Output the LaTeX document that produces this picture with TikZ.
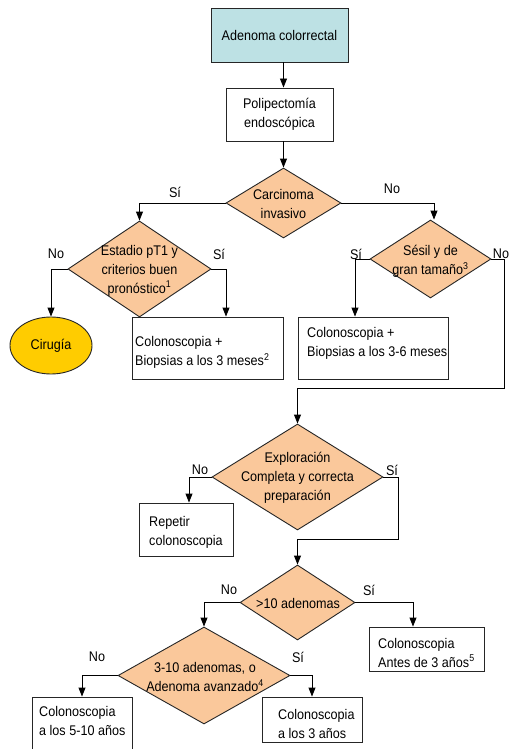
\documentclass[tikz,border=0pt]{standalone}
\usepackage{fontspec}
\setmainfont{Liberation Sans}[FakeStretch=0.9]
\usetikzlibrary{shapes.geometric,arrows.meta}
\definecolor{tealfill}{HTML}{BDE1E4}
\definecolor{orangefill}{HTML}{FAC89B}
\definecolor{yellowfill}{HTML}{FFCC00}
\definecolor{edgecol}{HTML}{262626}
\tikzset{
  basefont/.style={font=\fontsize{14}{19}\selectfont},
  boxnode/.style={basefont, draw=edgecol, line width=0.9pt, rectangle, inner sep=0pt, align=center},
  decision/.style={draw=edgecol, line width=0.9pt, diamond, fill=orangefill, inner sep=0pt},
  dtext/.style={basefont, align=center, inner sep=0pt},
  btext/.style={basefont, align=left, inner sep=0pt, anchor=west},
  lbl/.style={basefont, inner sep=0pt},
  arr/.style={draw=black, line width=0.9pt, -{Triangle[length=9pt,width=7pt]}},
  conn/.style={draw=black, line width=0.9pt}
}
\begin{document}
\begin{tikzpicture}[x=1pt,y=-1pt]
\clip (0,0) rectangle (510,749);
\fill[white] (0,0) rectangle (510,749);
% boxes
\node[boxnode, fill=tealfill, minimum width=137pt, minimum height=54pt] (b1) at (279.5,35) {Adenoma colorrectal};
\node[boxnode, fill=white, minimum width=107pt, minimum height=53pt] (b2) at (279.5,114.5) {Polipectomía\\endoscópica};
% decisions
\node[decision, minimum width=115pt, minimum height=70pt] (d1) at (283.5,203) {};
\node[dtext] (d1t) at (283.5,204) {Carcinoma\\invasivo};
\node[decision, minimum width=143pt, minimum height=96pt] (d2) at (139.5,269) {};
\node[dtext] (d2t) at (139.5,270.5) {Estadio pT1 y\\criterios buen\\pronóstico\textsuperscript{1}};
\node[decision, minimum width=121pt, minimum height=78pt] (d3) at (430.5,259) {};
\node[dtext] (d3t) at (430.5,261.5) {Sésil y de\\gran tamaño\textsuperscript{3}};
\node[draw=edgecol, line width=0.9pt, ellipse, fill=yellowfill, minimum width=82pt, minimum height=57pt, inner sep=0pt, basefont] (cir) at (51,345.5) {Cirugía};
\node[boxnode, fill=white, minimum width=151pt, minimum height=62pt] (b3m) at (207.5,348) {};
\node[btext] (t3m) at (135,352.5) {Colonoscopia +\\Biopsias a los 3 meses\textsuperscript{2}};
\node[boxnode, fill=white, minimum width=150pt, minimum height=62pt] (b36) at (373,348) {};
\node[btext] (t36) at (307,343.5) {Colonoscopia +\\Biopsias a los 3-6 meses};
\node[decision, minimum width=171pt, minimum height=106pt] (d4) at (297.5,477) {};
\node[dtext] (d4t) at (297.5,478) {Exploración\\Completa y correcta\\preparación};
\node[boxnode, fill=white, minimum width=94pt, minimum height=53pt] (rep) at (186,529.5) {};
\node[btext] (trep) at (149,532.5) {Repetir\\colonoscopia};
\node[decision, minimum width=115pt, minimum height=75pt] (d5) at (297.5,602.5) {};
\node[dtext] (d5t) at (298,603) {>10 adenomas};
\node[boxnode, fill=white, minimum width=115pt, minimum height=44pt] (b3a) at (426.5,649) {};
\node[btext] (t3a) at (378,652.5) {Colonoscopia\\Antes de 3 años\textsuperscript{5}};
\node[decision, minimum width=172pt, minimum height=97pt] (d6) at (204,675.5) {};
\node[dtext] (d6t) at (205,677) {3-10 adenomas, o\\Adenoma avanzado\textsuperscript{4}};
\node[boxnode, fill=white, minimum width=100pt, minimum height=68pt] (b510) at (82,731) {};
\node[btext] (t510) at (39,721) {Colonoscopia\\a los 5-10 años};
\node[boxnode, fill=white, minimum width=100pt, minimum height=45pt] (b3y) at (312,719.5) {};
\node[btext] (t3y) at (278,723.5) {Colonoscopia\\a los 3 años};
% helper coordinates
\coordinate (k1) at (504,388);
\coordinate (k2) at (398,539);
% connectors
\draw[arr] (b1.south -| d1.north) -- (b2.north -| d1.north);
\draw[arr] (b2.south -| d1.north) -- (d1.north);
\draw[arr] (d1.west) -| (d2.north);
\draw[arr] (d1.east) -| ([xshift=3.5pt]d3.north);
\draw[arr] (d2.west) -| (cir.north);
\draw[arr] (d2.east) -| ([xshift=18.5pt]b3m.north);
\draw[arr] (d3.west) -| ([xshift=-18pt]b36.north);
\draw[arr] (d3.east) -| (k1) -| (d4.north);
\draw[arr] (d4.west) -| ([xshift=3pt]rep.north);
\draw[arr] (d4.east) -| (k2) -| (d5.north);
\draw[arr] (d5.west) -| (d6.north);
\draw[arr] (d5.east) -| ([xshift=-13.5pt]b3a.north);
\draw[arr] (d6.west) -| (b510.north);
\draw[arr] (d6.east) -| (b3y.north);
% labels
\node[lbl] (l1) at (175,192) {Sí};
\node[lbl] (l2) at (392,189) {No};
\node[lbl] (l3) at (56,254) {No};
\node[lbl] (l4) at (219,254) {Sí};
\node[lbl] (l5) at (356,254) {Sí};
\node[lbl] (l6) at (501,254) {No};
\node[lbl] (l7) at (200,470) {No};
\node[lbl] (l8) at (392,470) {Sí};
\node[lbl] (l9) at (229,590) {No};
\node[lbl] (l10) at (369,590) {Sí};
\node[lbl] (l11) at (97,657) {No};
\node[lbl] (l12) at (298,657) {Sí};
\end{tikzpicture}
\end{document}
